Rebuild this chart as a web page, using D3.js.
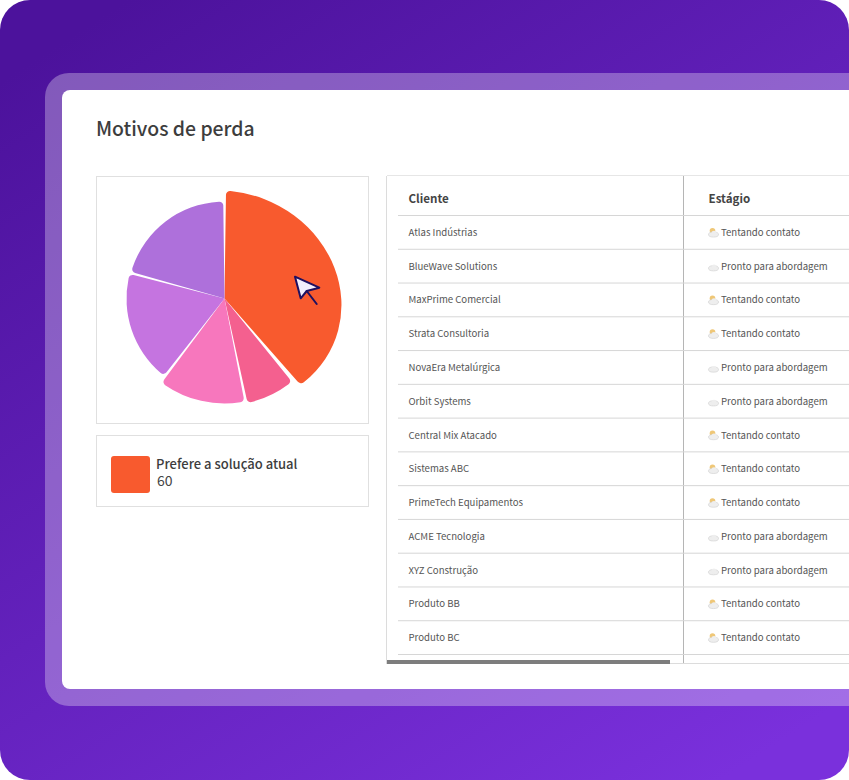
<!DOCTYPE html>
<html>
<head>
<meta charset="utf-8">
<script src="https://cdnjs.cloudflare.com/ajax/libs/d3/7.8.5/d3.min.js"></script>
<style>
html, body { margin: 0; padding: 0; background: #fff; }
svg { display: block; font-family: "Noto Sans CJK SC", "Noto Sans", sans-serif; }
</style>
</head>
<body>
<div id="grafico"></div>
<script>
// dati del grafico
var titolo = "Motivos de perda";
var motivi = ["Prefere a solução atual", "Sem orçamento", "Sem resposta", "Concorrente", "Sem interesse"];
var numeri = [60, 12, 21, 29, 32];
var colonne = ["Cliente", "Estágio"];
var clienti = ["Atlas Indústrias", "BlueWave Solutions", "MaxPrime Comercial", "Strata Consultoria",
    "NovaEra Metalúrgica", "Orbit Systems", "Central Mix Atacado", "Sistemas ABC",
    "PrimeTech Equipamentos", "ACME Tecnologia", "XYZ Construção", "Produto BB", "Produto BC"];
var stadi = ["Tentando contato", "Pronto para abordagem", "Tentando contato", "Tentando contato",
    "Pronto para abordagem", "Pronto para abordagem", "Tentando contato", "Tentando contato",
    "Tentando contato", "Pronto para abordagem", "Pronto para abordagem", "Tentando contato", "Tentando contato"];

var colori = ["#f85a2e", "#f4608f", "#f777bd", "#c574e0", "#ae70db"];
var raggi = [108, 107, 105, 98, 97];

var svg = d3.select("#grafico").append("svg").attr("width", 849).attr("height", 780);
var defs = svg.append("defs");

var grad = defs.append("linearGradient").attr("id", "sfondo")
    .attr("x1", "15%").attr("y1", "0%").attr("x2", "85%").attr("y2", "100%");
grad.append("stop").attr("offset", "0%").attr("stop-color", "#4c129c");
grad.append("stop").attr("offset", "100%").attr("stop-color", "#7a30dc");

// sfondo e cornice
svg.append("rect").attr("width", 849).attr("height", 780).attr("rx", 30).attr("fill", "url(#sfondo)");
svg.append("rect").attr("x", 45).attr("y", 73).attr("width", 900).attr("height", 633).attr("rx", 24)
    .attr("fill", "#fff").attr("opacity", 0.3);
svg.append("rect").attr("x", 62).attr("y", 90).attr("width", 880).attr("height", 599).attr("rx", 8)
    .attr("fill", "#fff");

svg.append("text").attr("x", 96).attr("y", 136).attr("font-size", 19.4).attr("font-weight", 500)
    .attr("fill", "#3d3d3d").text(titolo);

// riquadri
svg.append("rect").attr("x", 96.5).attr("y", 176.5).attr("width", 272).attr("height", 247)
    .attr("fill", "none").attr("stroke", "#e0e0e0");
svg.append("rect").attr("x", 96.5).attr("y", 435.5).attr("width", 272).attr("height", 71)
    .attr("fill", "none").attr("stroke", "#e0e0e0");

// torta
var pie = d3.pie().sort(null).value(function (d) { return d; });
var torta = svg.append("g").attr("transform", "translate(224.5,298.5)");

torta.selectAll("path")
    .data(pie(numeri))
    .enter()
    .append("path")
    .attr("d", function (d, i) {
        return d3.arc()
            .innerRadius(0)
            .outerRadius(raggi[i])
            .cornerRadius(4)
            .padAngle(0.026)
            .padRadius(raggi[i])(d);
    })
    .attr("fill", function (d, i) { return colori[i]; })
    // la fetta attiva esce un po' verso destra
    .attr("transform", function (d, i) { return i == 0 ? "matrix(1.083,0.06,0,1,0,0)" : null; });

// cursore
svg.append("path").attr("d", "M295,276.7L319.3,287.7L306.7,291L300.7,298.3Z")
    .attr("fill", "#f3effc").attr("stroke", "#1e1060").attr("stroke-width", 2).attr("stroke-linejoin", "round");
svg.append("path").attr("d", "M306.7,291L316.7,304")
    .attr("stroke", "#1e1060").attr("stroke-width", 2).attr("stroke-linecap", "round");

// legenda
svg.append("rect").attr("x", 111).attr("y", 456).attr("width", 39).attr("height", 37).attr("rx", 3)
    .attr("fill", colori[0]);
svg.append("text").attr("x", 156).attr("y", 469).attr("font-size", 13).attr("font-weight", 500)
    .attr("fill", "#3d3d3d").text(motivi[0]);
svg.append("text").attr("x", 157).attr("y", 486).attr("font-size", 14)
    .attr("fill", "#444").text(numeri[0]);

// tabella
var y = d3.scalePoint().domain(d3.range(clienti.length + 1)).range([215.5, 654.5]);
var xDiv = 683.5;
var tab = svg.append("g");

tab.append("path").attr("d", "M386.5,176V664").attr("stroke", "#dcdcdc").attr("fill", "none");
tab.append("path").attr("d", "M387,175.5H849").attr("stroke", "#e6e6e6").attr("fill", "none");
tab.append("path").attr("d", "M" + xDiv + ",176V664").attr("stroke", "#b5b5b5").attr("fill", "none");
tab.append("path").attr("d", "M387,663.5H849").attr("stroke", "#dcdcdc").attr("fill", "none");

tab.selectAll("line.riga")
    .data(d3.range(clienti.length + 1))
    .enter()
    .append("line")
    .attr("class", "riga")
    .attr("x1", 398).attr("x2", 849)
    .attr("y1", function (d) { return y(d); })
    .attr("y2", function (d) { return y(d); })
    .attr("stroke", "#d6d6d6");

tab.selectAll("text.col")
    .data(colonne)
    .enter()
    .append("text")
    .attr("class", "col")
    .attr("x", function (d, i) { return i == 0 ? 408.5 : 708.5; })
    .attr("y", 203)
    .attr("font-size", 11.6)
    .attr("font-weight", 700)
    .attr("fill", "#444")
    .text(function (d) { return d; });

tab.selectAll("text.cliente")
    .data(clienti)
    .enter()
    .append("text")
    .attr("class", "cliente")
    .attr("x", 408.5)
    .attr("y", function (d, i) { return y(i) + 20.4; })
    .attr("font-size", 9.6)
    .attr("fill", "#555")
    .text(function (d) { return d; });

tab.selectAll("text.stadio")
    .data(stadi)
    .enter()
    .append("text")
    .attr("class", "stadio")
    .attr("x", 721)
    .attr("y", function (d, i) { return y(i) + 20.4; })
    .attr("font-size", 9.6)
    .attr("fill", "#555")
    .text(function (d) { return d; });

// icone meteo
var icone = tab.selectAll("g.icona")
    .data(stadi)
    .enter()
    .append("g")
    .attr("class", "icona")
    .attr("transform", function (d, i) { return "translate(713.5," + (y(i) + 18.5) + ")"; });

icone.filter(function (d) { return d == "Tentando contato"; })
    .append("circle").attr("cx", -1).attr("cy", -3.2).attr("r", 2.8).attr("fill", "#efc777");
icone.append("ellipse").attr("cx", 0).attr("cy", 0.5).attr("rx", 5).attr("ry", 2.6)
    .attr("fill", "#eeeeee").attr("stroke", "#cfcfcf").attr("stroke-width", 0.6);
icone.append("circle").attr("cx", 0.5).attr("cy", -0.8).attr("r", 2.4).attr("fill", "#eeeeee");

// barra di scorrimento
svg.append("rect").attr("x", 387).attr("y", 660).attr("width", 283).attr("height", 4).attr("fill", "#7d7d7d");
</script>
</body>
</html>
